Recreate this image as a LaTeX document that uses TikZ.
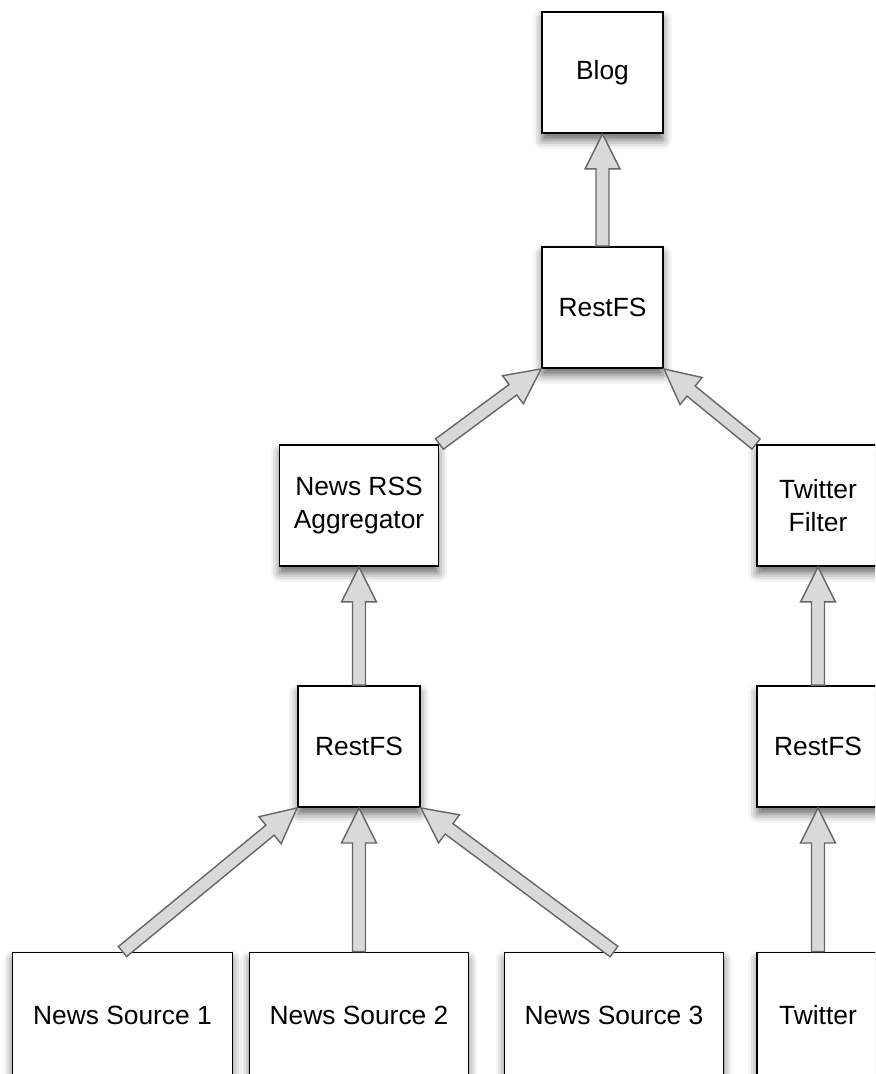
\documentclass[tikz,border=0pt]{standalone}
\usepackage{fontspec}
\setmainfont{Liberation Sans}
\usetikzlibrary{calc,shadows.blur}

\newcommand\fatarrow[2]{%
\coordinate (hb) at ($(#2)!7mm!(#1)$);
\draw[fat] ($(#1)!1.3mm!90:(#2)$) -- ($(hb)!1.3mm!90:(#2)$) -- ($(hb)!3.5mm!90:(#2)$) -- (#2)
  -- ($(hb)!3.5mm!-90:(#2)$) -- ($(hb)!1.3mm!-90:(#2)$) -- ($(#1)!1.3mm!-90:(#2)$) -- cycle;}

\begin{document}
\begin{tikzpicture}[x=0.02cm, y=-0.02cm,
  box/.style={draw, fill=white, line width=1.1pt, inner sep=0pt, align=center,
    minimum width=2.42cm, minimum height=2.42cm,
    font=\fontsize{15}{18.7}\selectfont,
    blur shadow={shadow xshift=0pt, shadow yshift=-4pt, shadow blur radius=5pt, shadow opacity=60}},
  fat/.style={draw=black!60, fill=black!15, line width=0.8pt, line join=miter}]
\useasboundingbox (0,0) rectangle (875,1074);
\clip (0,0) rectangle (875,1074);
\node[box] (blog) at (602.5,72.5){Blog};
\node[box] (rfs0) at (602.5,307.5){RestFS};
\node[box, minimum width=3.18cm] (agg) at (359,505.5){News RSS\\Aggregator};
\node[box, minimum width=2.44cm] (twf) at (818,505.5){Twitter\\Filter};
\node[box, minimum width=2.44cm] (rfs1) at (359,746.5){RestFS};
\node[box, minimum width=2.44cm] (rfs2) at (818,746.5){RestFS};
\node[box, minimum width=4.4cm, minimum height=2.5cm] (src1) at (122.5,1015){News Source 1};
\node[box, minimum width=4.38cm, minimum height=2.5cm] (src2) at (359,1015){News Source 2};
\node[box, minimum width=4.38cm, minimum height=2.5cm] (src3) at (614,1015){News Source 3};
\node[box, minimum width=2.44cm, minimum height=2.5cm] (twt) at (818,1015){Twitter};

\fatarrow{rfs0.north}{blog.south}
\fatarrow{agg.north east}{rfs0.south west}
\fatarrow{twf.north west}{rfs0.south east}
\fatarrow{rfs1.north}{agg.south}
\fatarrow{rfs2.north}{twf.south}
\fatarrow{src1.north}{rfs1.south west}
\fatarrow{src2.north}{rfs1.south}
\fatarrow{src3.north}{rfs1.south east}
\fatarrow{twt.north}{rfs2.south}

\end{tikzpicture}
\end{document}
